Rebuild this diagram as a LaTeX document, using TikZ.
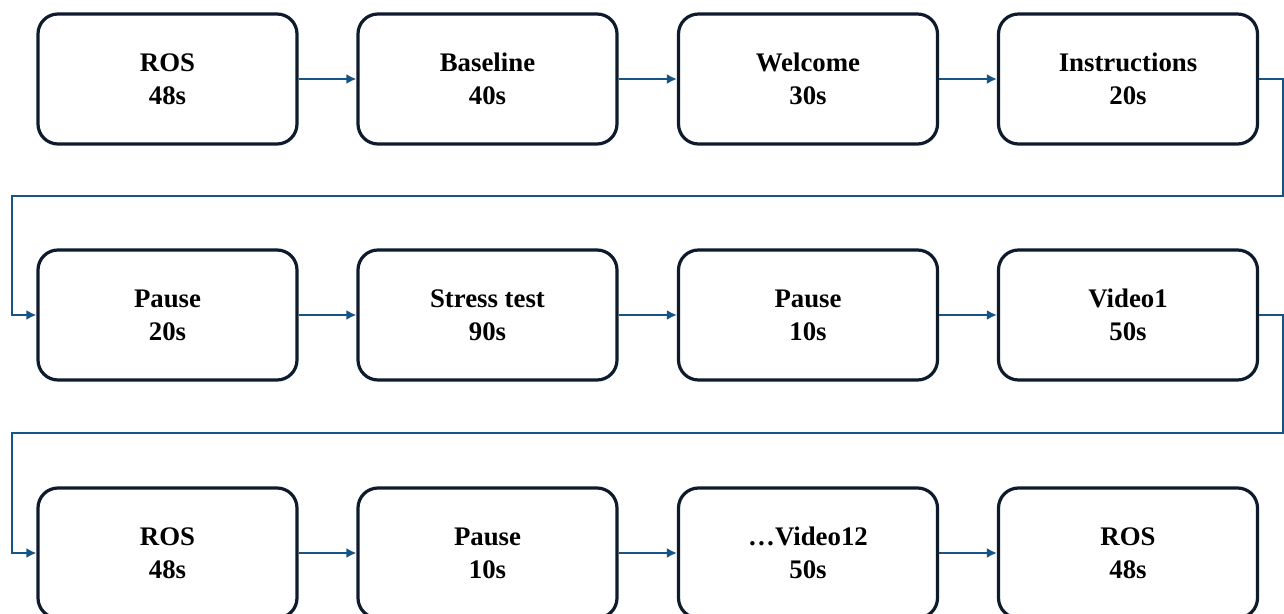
\documentclass[tikz,border=0pt]{standalone}
\usepackage{fontspec}
\setmainfont{Liberation Serif}
\definecolor{stepblue}{RGB}{22,84,134}
\definecolor{stepnavy}{RGB}{14,27,45}
\usetikzlibrary{arrows.meta,positioning}
\tikzstyle{flow} = [draw, stepblue, line width=1.4pt, -{Latex[length=5pt,width=5pt]}]
\tikzstyle{stage} = [draw=stepnavy, line width=1.6pt, rounded corners=10pt, fill=white,
  minimum width=129.5pt, minimum height=65pt, align=center,
  font=\fontsize{13.4}{16.5}\selectfont\bfseries]

\begin{document}
\begin{tikzpicture}[x=0.5pt,y=-0.5pt]
          \clip (0,0) rectangle (1284,614);
          % first row
          \node[stage] (ros1)  at (167.5,79) {ROS\\48s};
          \node[stage] (base)  at (487.5,79) {Baseline\\40s};
          \node[stage] (welc)  at (808,79)   {Welcome\\30s};
          \node[stage] (instr) at (1128,79)  {Instructions\\20s};
          % second row
          \node[stage] (pause1) at (167.5,315) {Pause\\20s};
          \node[stage] (stress) at (487.5,315) {Stress test\\90s};
          \node[stage] (pause2) at (808,315)   {Pause\\10s};
          \node[stage] (vid1)   at (1128,315)  {Video1\\50s};
          % third row
          \node[stage] (ros2)   at (167.5,553) {ROS\\48s};
          \node[stage] (pause3) at (487.5,553) {Pause\\10s};
          \node[stage] (vid12)  at (808,553)   {\dots Video12\\50s};
          \node[stage] (ros3)   at (1128,553)  {ROS\\48s};
          % turning points
          \coordinate (r1) at (1283,196);
          \coordinate (l1) at (12,196);
          \coordinate (r2) at (1283,433);
          \coordinate (l2) at (12,433);
          \draw[flow] (ros1) -- (base);
          \draw[flow] (base) -- (welc);
          \draw[flow] (welc) -- (instr);
          \draw[flow] (instr.east) -| (r1) -- (l1) |- (pause1.west);
          \draw[flow] (pause1) -- (stress);
          \draw[flow] (stress) -- (pause2);
          \draw[flow] (pause2) -- (vid1);
          \draw[flow] (vid1.east) -| (r2) -- (l2) |- (ros2.west);
          \draw[flow] (ros2) -- (pause3);
          \draw[flow] (pause3) -- (vid12);
          \draw[flow] (vid12) -- (ros3);
        \end{tikzpicture}
\end{document}
